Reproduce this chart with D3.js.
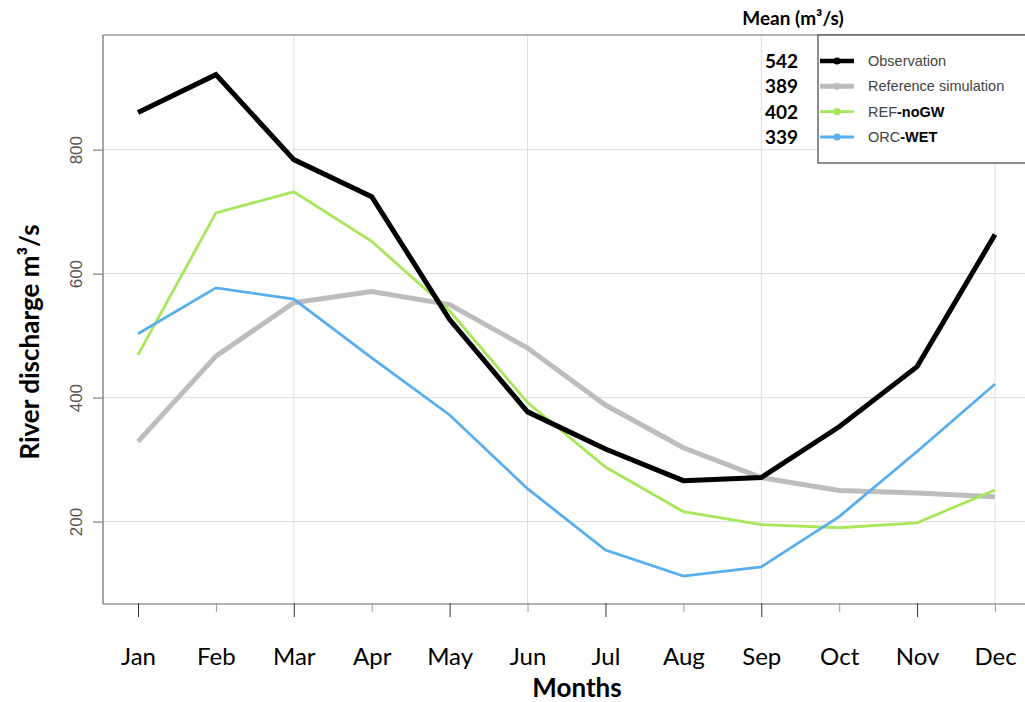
<!DOCTYPE html>
<html>
<head>
<meta charset="utf-8">
<script src="https://cdn.jsdelivr.net/npm/d3@7"></script>
<style>
  html, body { margin: 0; padding: 0; background: #fff; }
  svg { display: block; }
</style>
</head>
<body>
<svg id="chart" width="1025" height="702"></svg>
<script>
// Monthly mean river discharge (m³/s)
const months = ["Jan","Feb","Mar","Apr","May","Jun","Jul","Aug","Sep","Oct","Nov","Dec"];
const observation = [860, 921, 784, 724, 526, 377, 317, 266, 271, 353, 450, 663];
const referenceSim = [329, 467, 553, 571, 550, 480, 388, 319, 271, 250, 246, 240];
const refNoGW     = [469, 698, 732, 652, 540, 392, 288, 216, 195, 190, 198, 251];
const orcWet      = [503, 577, 559, 464, 372, 253, 154, 112, 127, 208, 313, 422];
const seriesNames = ["Observation", "Reference simulation", "REF-noGW", "ORC-WET"];
const seriesMeans = ["542", "389", "402", "339"];
const yTicks = [200, 400, 600, 800];

const svg = d3.select("#chart");
const plot = { left: 103, right: 1025, top: 35, bottom: 604 };

const x = d3.scalePoint().domain(months).range([138, 995]);
const y = d3.scaleLinear().domain([67, 985]).range([plot.bottom, plot.top]);

// grid
const grid = svg.append("g").attr("stroke", "#dedede").attr("stroke-width", 1);
grid.selectAll("line.h").data(yTicks).join("line")
  .attr("x1", plot.left).attr("x2", plot.right)
  .attr("y1", d => y(d)).attr("y2", d => y(d));
grid.selectAll("line.v").data(["Mar","Jun","Sep","Dec"]).join("line")
  .attr("x1", d => x(d)).attr("x2", d => x(d))
  .attr("y1", plot.top).attr("y2", plot.bottom);

// series lines
const line = d3.line().x((d, i) => x(months[i])).y(d => y(d));
const series = [
  { values: referenceSim, color: "#bdbdbd", width: 5 },
  { values: refNoGW, color: "#a8e65a", width: 2.8 },
  { values: orcWet, color: "#5aaeee", width: 2.8 },
  { values: observation, color: "#000000", width: 5 }
];
series.forEach(s => {
  svg.append("path").datum(s.values)
    .attr("fill", "none").attr("stroke", s.color)
    .attr("stroke-width", s.width).attr("stroke-linejoin", "miter")
    .attr("d", line);
});

// frame
const frame = svg.append("g").attr("stroke", "#6a6a6a").attr("stroke-width", 1.2);
frame.append("line").attr("x1", plot.left).attr("x2", plot.left).attr("y1", plot.top).attr("y2", plot.bottom);
frame.append("line").attr("x1", plot.left).attr("x2", plot.right).attr("y1", plot.bottom).attr("y2", plot.bottom);
frame.append("line").attr("x1", plot.left).attr("x2", plot.right).attr("y1", plot.top).attr("y2", plot.top);

// y axis
const yAxis = svg.append("g").attr("transform", `translate(${plot.left},0)`)
  .call(d3.axisLeft(y).tickValues(yTicks).tickSize(10).tickPadding(0).tickFormat(d3.format("d")));
yAxis.select(".domain").remove();
yAxis.selectAll(".tick line").attr("stroke", "#6a6a6a");
yAxis.selectAll(".tick text")
  .attr("font-family", "'Liberation Sans', Arial, sans-serif")
  .attr("font-size", 17).attr("fill", "#555")
  .attr("text-anchor", "middle").attr("x", 0).attr("dy", 0)
  .attr("transform", "translate(-21,0) rotate(-90)");

// x axis
const xAxis = svg.append("g").attr("transform", `translate(0,${plot.bottom})`)
  .call(d3.axisBottom(x).tickSize(0).tickPadding(0));
xAxis.select(".domain").remove();
xAxis.selectAll(".tick").append("line")
  .attr("y1", -1).attr("y2", (d, i) => i % 2 === 0 ? 13 : 8)
  .attr("stroke", (d, i) => i % 2 === 0 ? "#333" : "#999");
xAxis.selectAll(".tick text")
  .attr("font-family", "Lato, 'Open Sans', sans-serif")
  .attr("font-size", 24).attr("fill", "#000")
  .attr("y", 61).attr("dy", 0);

// axis titles
svg.append("text").attr("x", 577).attr("y", 697)
  .attr("text-anchor", "middle")
  .attr("font-family", "Lato, sans-serif").attr("font-weight", "bold").attr("font-size", 26)
  .text("Months");
svg.append("text")
  .attr("transform", "translate(39,342) rotate(-90)")
  .attr("text-anchor", "middle")
  .attr("font-family", "Lato, sans-serif").attr("font-weight", "bold").attr("font-size", 26)
  .text("River discharge m³/s");

// legend
const lg = svg.append("g");
lg.append("rect").attr("x", 818).attr("y", plot.top).attr("width", 220).attr("height", 128)
  .attr("fill", "#fff").attr("stroke", "#444").attr("stroke-width", 1.2);
const legendY = d3.scalePoint().domain(seriesNames).range([61, 137]);
const legendColors = ["#000000", "#bdbdbd", "#a8e65a", "#5aaeee"];
const legendWidths = [4.5, 5, 2.8, 2.8];
seriesNames.forEach((name, i) => {
  const yy = legendY(name);
  lg.append("line").attr("x1", 820).attr("x2", 854).attr("y1", yy).attr("y2", yy)
    .attr("stroke", legendColors[i]).attr("stroke-width", legendWidths[i]);
  lg.append("circle").attr("cx", 837).attr("cy", yy).attr("r", 3.6).attr("fill", legendColors[i]);
  const t = lg.append("text").attr("x", 868).attr("y", yy + 5)
    .attr("font-family", "'Liberation Sans', Arial, sans-serif").attr("font-size", 14.5).attr("fill", "#444");
  const parts = name.split("-");
  t.append("tspan").text(parts[0]);
  if (parts.length > 1) {
    t.append("tspan").attr("font-weight", "bold").attr("fill", "#000").text("-" + parts[1]);
  }
  svg.append("text").attr("x", 798).attr("y", yy + 7).attr("text-anchor", "end")
    .attr("font-family", "Lato, sans-serif").attr("font-weight", "bold").attr("font-size", 19)
    .text(seriesMeans[i]);
});
svg.append("text").attr("x", 793).attr("y", 25).attr("text-anchor", "middle")
  .attr("font-family", "Lato, sans-serif").attr("font-weight", "bold").attr("font-size", 19)
  .text("Mean (m³/s)");
</script>
</body>
</html>
